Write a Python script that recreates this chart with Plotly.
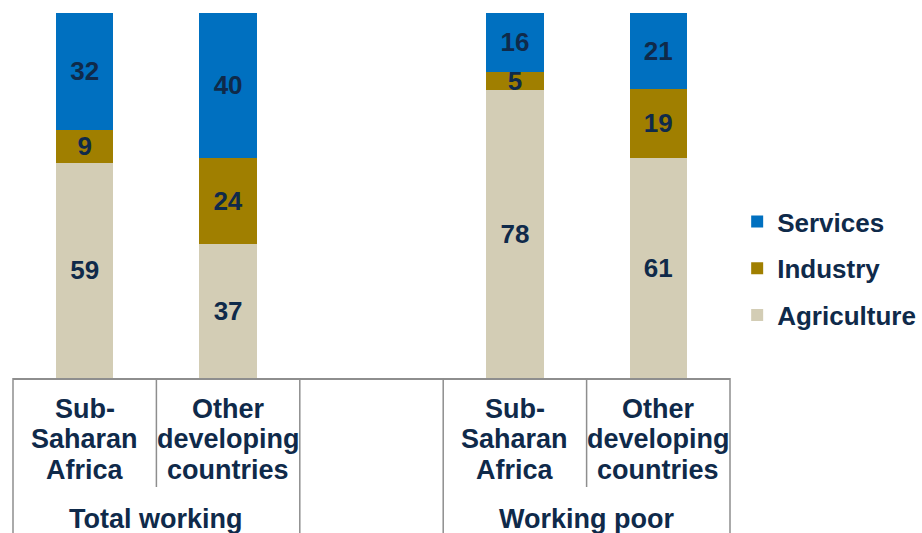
import plotly.graph_objects as go

# Data
categories = [["Sub-", "Saharan", "Africa"], ["Other", "developing", "countries"],
              ["Sub-", "Saharan", "Africa"], ["Other", "developing", "countries"]]
positions = [0, 1, 3, 4]  # slot 2 is an empty spacer between the groups
groups = ["Total working", "Working poor"]
group_slots = [(0, 1), (3, 4)]
agriculture = [59, 37, 78, 61]
industry = [9, 24, 5, 19]
services = [32, 40, 16, 21]

TXT = "#0F2A4A"
FONT = "Liberation Sans, Arial, sans-serif"
GRID = "#8E8E8E"
LBL = 27

fig = go.Figure()
series = [("Agriculture", agriculture, "#D3CDB5", 3),
          ("Industry", industry, "#A07F00", 2),
          ("Services", services, "#0070C0", 1)]
for name, vals, col, rank in series:
    fig.add_trace(go.Bar(
        x=positions, y=vals, name=f"<b>{name}</b>",
        marker=dict(color=col, line=dict(width=0)),
        width=0.4, text=[str(v) for v in vals], textposition="inside",
        texttemplate="<b>%{text}</b>", textangle=0,
        insidetextanchor="middle", constraintext="none",
        textfont=dict(family=FONT, size=26, color=TXT),
        legendgroup=name, legendrank=rank, hoverinfo="skip"))

# plot area geometry: x from -0.5..4.5 (5 slots), y 0..100
xmin, xmax = -0.5, 4.5
def px(x):
    return (x - xmin) / (xmax - xmin)

plot_h = 365.0
def py(pixels_below_axis):
    return -pixels_below_axis / plot_h

shapes = []
# category dividers
boundaries = [-0.5, 0.5, 1.5, 2.5, 3.5, 4.5]
long_b = {-0.5, 1.5, 2.5, 4.5}
for b in boundaries:
    depth = 160 if b in long_b else 109
    shapes.append(dict(type="line", xref="paper", yref="paper",
                       x0=px(b), x1=px(b), y0=0, y1=py(depth),
                       line=dict(color=GRID, width=1.5)))

annotations = []
line_offsets = [30.5, 61.5, 92.5]  # line centres below the axis (px)
for pos, lines in zip(positions, categories):
    for off, ln in zip(line_offsets, lines):
        annotations.append(dict(x=px(pos), y=py(off), xref="paper", yref="paper",
                                text=f"<b>{ln}</b>", showarrow=False,
                                xanchor="center", yanchor="middle",
                                font=dict(family=FONT, size=LBL, color=TXT)))
for g, (a, b) in zip(groups, group_slots):
    annotations.append(dict(x=px((a + b) / 2), y=py(140.5), xref="paper", yref="paper",
                            text=f"<b>{g}</b>", showarrow=False,
                            xanchor="center", yanchor="middle",
                            font=dict(family=FONT, size=LBL, color=TXT)))

fig.update_layout(
    width=922, height=533,
    margin=dict(l=13, r=192, t=13, b=155, autoexpand=False),
    barmode="stack", barnorm="percent",
    plot_bgcolor="white", paper_bgcolor="white",
    xaxis=dict(range=[xmin, xmax], showticklabels=False, showgrid=False, zeroline=False,
               showline=True, linecolor=GRID, linewidth=1.5, ticks=""),
    yaxis=dict(range=[0, 100], visible=False),
    legend=dict(x=1.010, y=0.30, xanchor="left", yanchor="middle",
                traceorder="grouped", tracegroupgap=10,
                font=dict(family=FONT, size=26, color=TXT),
                itemclick=False, itemdoubleclick=False),
    font=dict(family=FONT, color=TXT),
    shapes=shapes, annotations=annotations,
)

fig.write_html("out.html", config={"displayModeBar": False},
               post_script="document.body.style.margin='0px';document.body.style.padding='0px';")
